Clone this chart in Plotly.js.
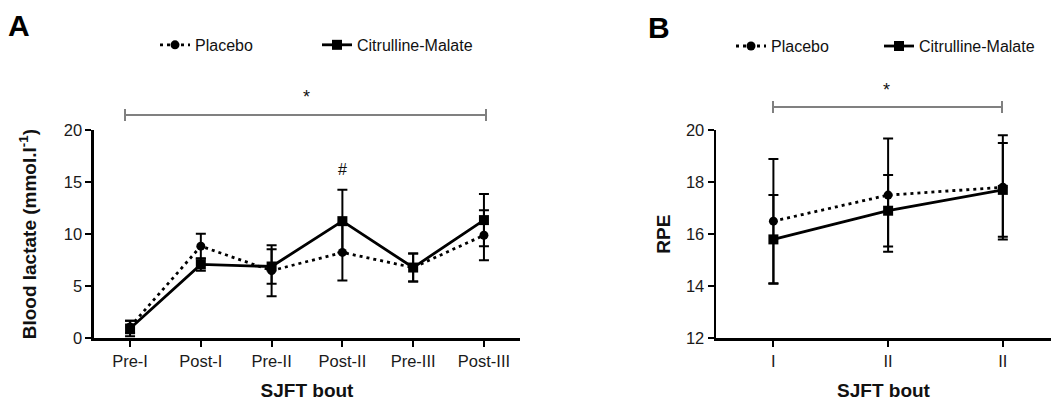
<!DOCTYPE html>
<html><head><meta charset="utf-8">
<script src="https://cdn.plot.ly/plotly-3.0.1.min.js"></script>
<style>html,body{margin:0;padding:0;background:#fff}#chart{width:1051px;height:401px}</style>
</head><body><div id="chart"></div>
<script>
// Panel A: blood lactate
const boutsA = ['Pre-I', 'Post-I', 'Pre-II', 'Post-II', 'Pre-III', 'Post-III'];
const lactatePlacebo = [1.1, 8.85, 6.5, 8.25, 6.8, 9.9];
const lactatePlaceboSD = [0.6, 1.2, 2.45, 2.7, 1.35, 2.4];
const lactateCM = [0.95, 7.1, 6.9, 11.25, 6.8, 11.35];
const lactateCMSD = [0.75, 0.6, 1.65, 3.0, 1.35, 2.5];
const lactateTicks = [0, 5, 10, 15, 20];

// Panel B: RPE
const boutsB = ['I', 'II', 'II'];
const rpePlacebo = [16.5, 17.5, 17.8];
const rpePlaceboSD = [2.38, 2.17, 2.0];
const rpeCM = [15.8, 16.9, 17.7];
const rpeCMSD = [1.7, 1.37, 1.8];
const rpeTicks = [12, 14, 16, 18, 20];

const seriesNames = ['Placebo', 'Citrulline-Malate'];

const FONT = 'Liberation Sans, Arial, Helvetica, sans-serif';
const xB = boutsB.map((_, i) => i);

function err(arr) {
  return {type: 'data', array: arr, symmetric: true, visible: true, color: '#000', thickness: 2, width: 5};
}
const dotLine = {color: '#000', width: 2.8, dash: '3px,4px'};
const solidLine = {color: '#000', width: 2.8};

const traces = [
  {x: boutsA, y: lactatePlacebo, error_y: err(lactatePlaceboSD), name: seriesNames[0],
   mode: 'lines+markers', line: dotLine,
   marker: {symbol: 'circle', size: 9, color: '#000'}, xaxis: 'x', yaxis: 'y', legend: 'legend', cliponaxis: false},
  {x: boutsA, y: lactateCM, error_y: err(lactateCMSD), name: seriesNames[1],
   mode: 'lines+markers', line: solidLine,
   marker: {symbol: 'square', size: 10, color: '#000'}, xaxis: 'x', yaxis: 'y', legend: 'legend2', cliponaxis: false},
  {x: xB, y: rpePlacebo, error_y: err(rpePlaceboSD), name: seriesNames[0],
   mode: 'lines+markers', line: dotLine,
   marker: {symbol: 'circle', size: 9, color: '#000'}, xaxis: 'x2', yaxis: 'y2', legend: 'legend3', cliponaxis: false},
  {x: xB, y: rpeCM, error_y: err(rpeCMSD), name: seriesNames[1],
   mode: 'lines+markers', line: solidLine,
   marker: {symbol: 'square', size: 10, color: '#000'}, xaxis: 'x2', yaxis: 'y2', legend: 'legend4', cliponaxis: false}
];

const axisCommon = {
  showgrid: false, zeroline: false, showline: true, linecolor: '#000', linewidth: 2.5,
  ticks: 'outside', ticklen: 6, tickwidth: 2, tickcolor: '#000',
  tickfont: {family: FONT, size: 16.5, color: '#1a1a1a'}, automargin: false, fixedrange: true
};
const titleFont = {family: FONT, size: 19, color: '#111', weight: 'bold'};

const yDom = [0.156, 0.676];
const legendCommon = {orientation: 'h', xanchor: 'left', yanchor: 'middle',
  font: {family: FONT, size: 16, color: '#111'}, bgcolor: 'rgba(0,0,0,0)', borderwidth: 0,
  itemwidth: 30};

const grey = '#808080';
function bracket(x0, x1, y, h) {
  return [
    {type: 'line', xref: 'paper', yref: 'paper', x0: x0, x1: x1, y0: y, y1: y, line: {color: grey, width: 2}},
    {type: 'line', xref: 'paper', yref: 'paper', x0: x0, x1: x0, y0: y - h, y1: y + h, line: {color: grey, width: 2}},
    {type: 'line', xref: 'paper', yref: 'paper', x0: x1, x1: x1, y0: y - h, y1: y + h, line: {color: grey, width: 2}}
  ];
}

const layout = {
  width: 1051, height: 401,
  margin: {l: 0, r: 0, t: 0, b: 0, pad: 0},
  paper_bgcolor: '#fff', plot_bgcolor: '#fff',
  font: {family: FONT, color: '#111'},
  xaxis: Object.assign({}, axisCommon, {domain: [0.0894, 0.4948], anchor: 'y', type: 'category',
    range: [-0.51, 5.51],
    title: {text: 'SJFT bout', font: titleFont, standoff: 28}}),
  yaxis: Object.assign({}, axisCommon, {domain: yDom, anchor: 'x', range: [0, 20],
    tickvals: lactateTicks, ticktext: lactateTicks.map(String),
    title: {text: 'Blood lactate (mmol.l<sup>-1</sup>)', font: titleFont, standoff: 22}}),
  xaxis2: Object.assign({}, axisCommon, {domain: [0.6813, 1.0], anchor: 'y2',
    range: [-0.5, 2.42], tickvals: xB, ticktext: boutsB,
    title: {text: 'SJFT bout', font: titleFont, standoff: 28}}),
  yaxis2: Object.assign({}, axisCommon, {domain: yDom, anchor: 'x2', range: [12, 20],
    tickvals: rpeTicks, ticktext: rpeTicks.map(String),
    title: {text: 'RPE', font: titleFont, standoff: 10}}),
  legend: Object.assign({}, legendCommon, {x: 155 / 1051, y: 0.888}),
  legend2: Object.assign({}, legendCommon, {x: 317 / 1051, y: 0.888}),
  legend3: Object.assign({}, legendCommon, {x: 731 / 1051, y: 0.885}),
  legend4: Object.assign({}, legendCommon, {x: 879 / 1051, y: 0.885}),
  shapes: [].concat(
    bracket(125 / 1051, 486 / 1051, (401 - 115) / 401, 0.015),
    bracket(773 / 1051, 1002 / 1051, (401 - 107) / 401, 0.015)
  ),
  annotations: [
    {text: '<b>A</b>', xref: 'paper', yref: 'paper', x: 6 / 1051, y: (401 - 26) / 401, xanchor: 'left', yanchor: 'middle',
     showarrow: false, font: {family: FONT, size: 30, color: '#000'}},
    {text: '<b>B</b>', xref: 'paper', yref: 'paper', x: 646 / 1051, y: (401 - 27) / 401, xanchor: 'left', yanchor: 'middle',
     showarrow: false, font: {family: FONT, size: 30, color: '#000'}},
    {text: '*', xref: 'paper', yref: 'paper', x: 306 / 1051, y: (401 - 97) / 401, xanchor: 'center', yanchor: 'middle',
     showarrow: false, font: {family: FONT, size: 18, color: '#111'}},
    {text: '*', xref: 'paper', yref: 'paper', x: 886 / 1051, y: (401 - 90) / 401, xanchor: 'center', yanchor: 'middle',
     showarrow: false, font: {family: FONT, size: 18, color: '#111'}},
    {text: '#', xref: 'x', yref: 'y', x: 'Post-II', y: 16.2, xanchor: 'center', yanchor: 'middle',
     showarrow: false, font: {family: FONT, size: 16, color: '#111'}}
  ],
  showlegend: true
};

Plotly.newPlot('chart', traces, layout, {staticPlot: true, displayModeBar: false});
</script>
</body></html>
